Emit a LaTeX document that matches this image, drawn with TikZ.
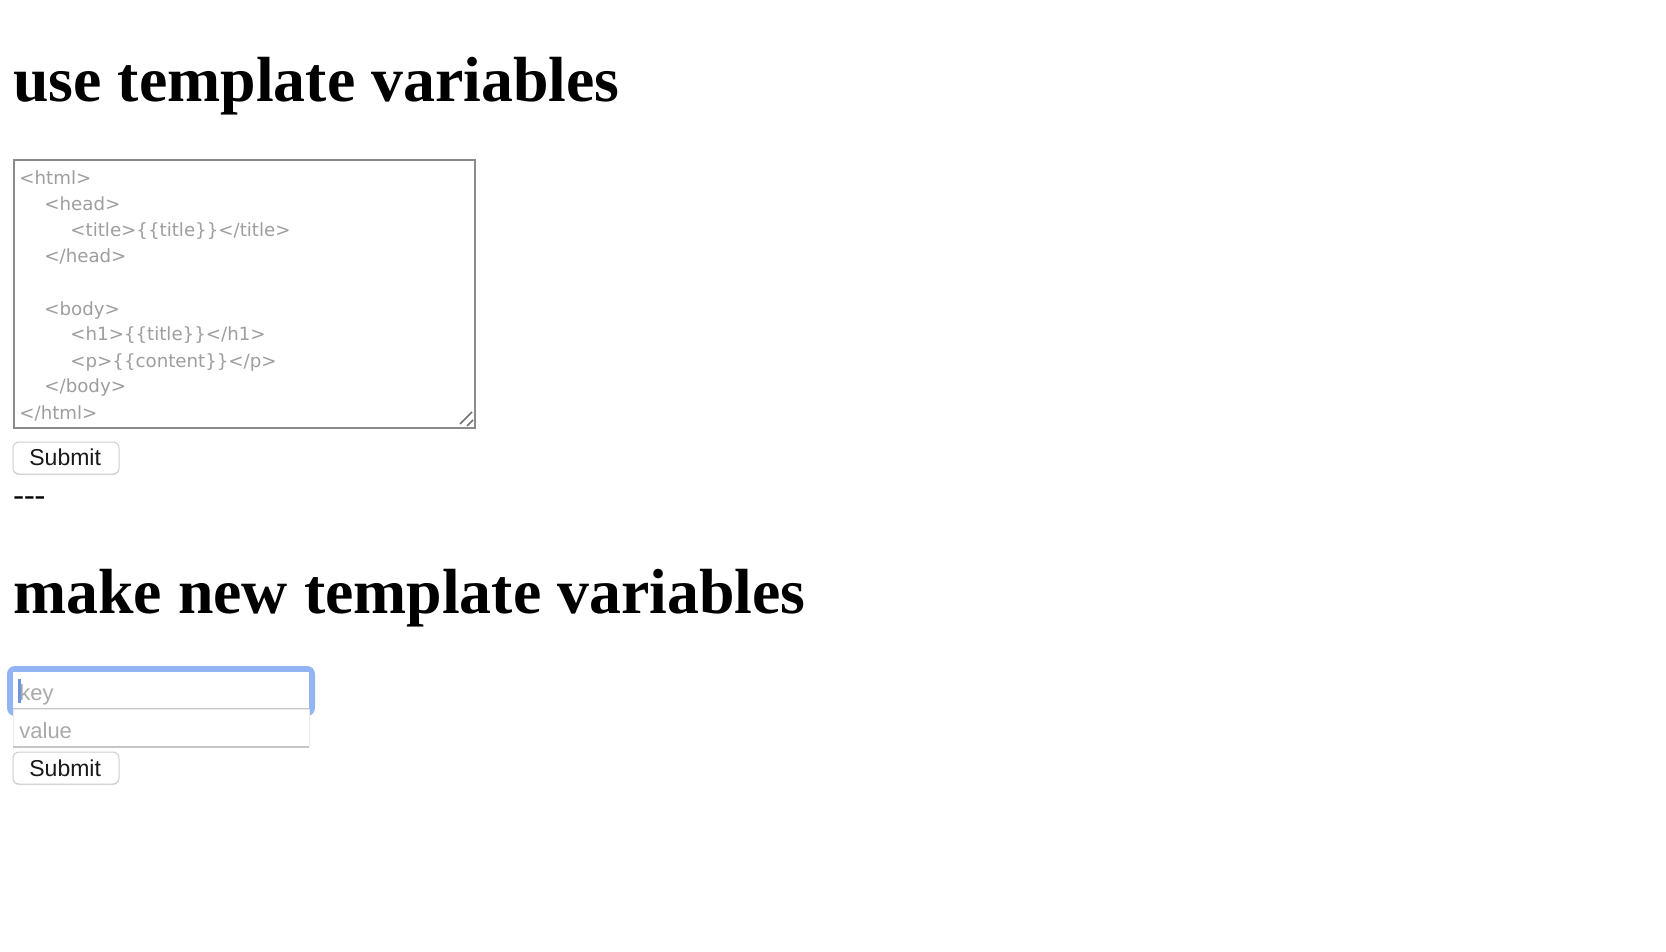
\documentclass[tikz,border=0pt]{standalone}
\usepackage{fontspec}
\setmainfont{Liberation Serif}
\newfontfamily\areafont{DejaVu Sans}
\newfontfamily\uifont{Liberation Sans}
\usetikzlibrary{positioning}
\definecolor{areagray}{HTML}{9E9E9E}
\definecolor{areaborder}{HTML}{8A8A8A}
\definecolor{holdergray}{HTML}{A9A9A9}
\definecolor{ringblue}{HTML}{93B4F2}
\definecolor{caretblue}{HTML}{6D95E3}
\definecolor{btnborder}{HTML}{CFCFCF}
\definecolor{fieldline}{HTML}{C6C6C6}
\tikzset{
  heading/.style={anchor=base west, inner sep=0pt, font=\fontsize{31.9}{38}\selectfont\bfseries},
  arealine/.style={anchor=base west, inner sep=0pt, text=areagray, font=\areafont\fontsize{9.1}{11}\selectfont},
  holder/.style={anchor=base west, inner sep=0pt, text=holdergray, font=\uifont\fontsize{11}{13}\selectfont},
  btnbox/.style={draw=btnborder, fill=white, line width=0.5pt, rounded corners=3pt},
  btnshadow/.style={fill=black!12, rounded corners=3pt},
  btnlabel/.style={anchor=base west, inner sep=0pt, text=black!90, font=\uifont\fontsize{11.5}{14}\selectfont}
}
\begin{document}
\begin{tikzpicture}[x=0.5pt, y=-0.5pt]
  \useasboundingbox [fill=white] (0,0) rectangle (1666,952);
  % first form
  \node [heading] (useH) at (13,102) {use template variables};
  \draw [areaborder, line width=1pt] (14,160) rectangle (475,428);
  \node [arealine] (l1) at (19,185) {<html>};
  \node [arealine] (l2) at (44,211) {<head>};
  \node [arealine] (l3) at (70,237) {<title>\{\{title\}\}</title>};
  \node [arealine] (l4) at (44,263) {</head>};
  \node [arealine] (l5) at (44,315) {<body>};
  \node [arealine] (l6) at (70,341) {<h1>\{\{title\}\}</h1>};
  \node [arealine] (l7) at (70,367) {<p>\{\{content\}\}</p>};
  \node [arealine] (l8) at (44,393) {</body>};
  \node [arealine] (l9) at (19,419) {</html>};
  \draw [black!55, line width=0.8pt] (460,424) -- (472,412) (467,426) -- (473,420);
  \fill [btnshadow] (13,443) rectangle (119,475);
  \draw [btnbox] (13,442) rectangle (119,474);
  \node [btnlabel] (subA) at (29,466) {Submit};
  \node [anchor=base west, inner sep=0pt, font=\fontsize{16}{19}\selectfont] (rule) at (13,505) {-{}-{}-};
  % second form
  \node [heading] (makeH) at (13,613) {make new template variables};
  \fill [ringblue, rounded corners=4pt] (7,666) rectangle (315,716);
  \fill [white] (13,672) rectangle (309,709);
  \draw [fieldline, line width=0.6pt] (13,709) -- (309,709);
  \node [holder] (keyT) at (19,700) {key};
  \fill [caretblue] (18,679) rectangle (21,703);
  \draw [black!8, fill=white, line width=0.5pt] (13,709) rectangle (309,747);
  \draw [fieldline, line width=0.8pt] (13,747) -- (309,747);
  \node [holder] (valT) at (19,738) {value};
  \fill [btnshadow] (13,753) rectangle (119,785);
  \draw [btnbox] (13,752) rectangle (119,784);
  \node [btnlabel] (subB) at (29,776) {Submit};
\end{tikzpicture}
\end{document}
